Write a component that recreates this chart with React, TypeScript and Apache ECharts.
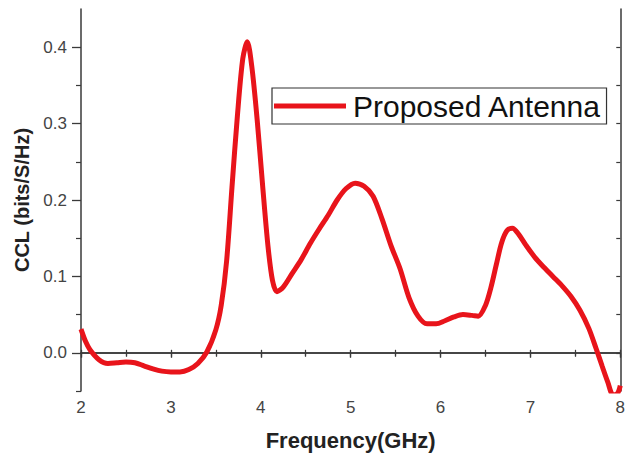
import React, { useEffect, useRef } from "react";
import * as echarts from "echarts";

// Frequency sweep (GHz) and channel capacity loss (bits/S/Hz)
const frequency = [
  2.0, 2.05, 2.1, 2.2, 2.3, 2.4, 2.5, 2.6, 2.7, 2.8, 2.9, 3.0, 3.1, 3.2, 3.3,
  3.4, 3.5, 3.56, 3.62, 3.68, 3.74, 3.8, 3.85, 3.9, 3.96, 4.02, 4.08, 4.13,
  4.18, 4.25, 4.35, 4.45, 4.55, 4.65, 4.75, 4.85, 4.95, 5.05, 5.15, 5.25, 5.35,
  5.45, 5.55, 5.65, 5.75, 5.85, 5.95, 6.05, 6.15, 6.25, 6.35, 6.42, 6.5, 6.56,
  6.62, 6.68, 6.74, 6.8, 6.87, 6.95, 7.05, 7.15, 7.25, 7.35, 7.45, 7.55, 7.65,
  7.73, 7.8, 7.86, 7.92, 7.97, 8.0,
];
const ccl = [
  0.031, 0.015, 0.004, -0.009, -0.014, -0.013, -0.012, -0.013, -0.017, -0.021,
  -0.024, -0.025, -0.025, -0.022, -0.014, 0.001, 0.03, 0.062, 0.12, 0.217,
  0.31, 0.385, 0.407, 0.375, 0.305, 0.22, 0.14, 0.095, 0.08, 0.086, 0.104,
  0.122, 0.143, 0.162, 0.18, 0.2, 0.215, 0.222, 0.218, 0.205, 0.175, 0.14,
  0.11, 0.072, 0.048, 0.038, 0.038, 0.042, 0.047, 0.05, 0.049, 0.048, 0.062,
  0.085, 0.115, 0.144, 0.16, 0.163, 0.155, 0.141, 0.125, 0.112, 0.1, 0.088,
  0.074, 0.056, 0.032, 0.006, -0.018, -0.038, -0.055, -0.053, -0.043,
];

const yMajorTicks = [0, 0.1, 0.2, 0.3, 0.4];
const yMinorTicks = [-0.05, 0.05, 0.15, 0.25, 0.35];
const yAllTicks = [-0.05, 0, 0.05, 0.1, 0.15, 0.2, 0.25, 0.3, 0.35, 0.4];

const seriesName = "Proposed Antenna";
const xTitle = "Frequency(GHz)";
const yTitle = "CCL (bits/S/Hz)";

const FONT = "'Liberation Sans', Arial, sans-serif";
const AXIS_COLOR = "#3a3a3a";
const LABEL_COLOR = "#444";

export default function App() {
  const ref = useRef<HTMLDivElement>(null);

  useEffect(() => {
    if (!ref.current) return;
    const chart = echarts.init(ref.current, null, { renderer: "svg" });

    const axisLine = { show: true, lineStyle: { color: AXIS_COLOR, width: 1.5 } };
    const yRange = { min: -0.05, max: 0.45 };

    chart.setOption({
      animation: false,
      backgroundColor: "#fff",
      grid: { left: 81, right: 3, top: 9, bottom: 64, containLabel: false },
      legend: {
        show: true,
        left: 272,
        top: 88,
        orient: "horizontal",
        padding: [3, 5, 3, 2],
        borderColor: "#333",
        borderWidth: 1.2,
        borderRadius: 0,
        itemWidth: 72,
        itemHeight: 5,
        itemGap: 6,
        icon: "rect",
        textStyle: { fontFamily: FONT, fontSize: 30, color: "#111", padding: [0, 0, 0, 2] },
        data: [seriesName],
      },
      xAxis: [
        {
          type: "value",
          position: "bottom",
          min: 2,
          max: 8,
          interval: 1,
          axisLine,
          axisTick: { show: true, inside: false, length: 5, lineStyle: { color: AXIS_COLOR, width: 1.3 } },
          minorTick: { show: true, splitNumber: 2, length: 3, lineStyle: { color: AXIS_COLOR, width: 1.2 } },
          axisLabel: { show: true, margin: 8, fontFamily: FONT, fontSize: 17, color: LABEL_COLOR },
          splitLine: { show: false },
          name: xTitle,
          nameLocation: "middle",
          nameGap: 38,
          nameTextStyle: { fontFamily: FONT, fontSize: 22, fontWeight: "bold", color: "#222" },
        },
        {
          type: "value",
          position: "bottom",
          min: 2,
          max: 8,
          interval: 1,
          axisLine: { show: false },
          axisTick: { show: true, inside: true, length: 3, lineStyle: { color: AXIS_COLOR, width: 1.3 } },
          minorTick: { show: true, splitNumber: 2, length: 3, lineStyle: { color: AXIS_COLOR, width: 1.2 } },
          axisLabel: { show: false },
          splitLine: { show: false },
        },
        {
          type: "value",
          position: "top",
          min: 2,
          max: 8,
          interval: 1,
          axisLine,
          axisTick: { show: true, inside: true, length: 4, lineStyle: { color: AXIS_COLOR, width: 1.2 } },
          minorTick: { show: true, splitNumber: 2, length: 4, lineStyle: { color: AXIS_COLOR, width: 1.2 } },
          axisLabel: { show: false },
          splitLine: { show: false },
        },
      ],
      yAxis: [
        {
          type: "value",
          position: "left",
          ...yRange,
          axisLine,
          axisTick: { show: true, inside: false, length: 9, customValues: yMajorTicks, lineStyle: { color: AXIS_COLOR, width: 1.3 } },
          axisLabel: {
            show: true,
            customValues: yMajorTicks,
            margin: 14,
            fontFamily: FONT,
            fontSize: 17,
            color: LABEL_COLOR,
            formatter: (v: number) => v.toFixed(1),
          },
          splitLine: { show: false },
          name: yTitle,
          nameLocation: "middle",
          nameGap: 49,
          nameTextStyle: { fontFamily: FONT, fontSize: 20, fontWeight: "bold", color: "#222" },
        },
        {
          type: "value",
          position: "left",
          ...yRange,
          axisLine: { show: false },
          axisTick: { show: true, inside: false, length: 5, customValues: yMinorTicks, lineStyle: { color: AXIS_COLOR, width: 1.2 } },
          axisLabel: { show: false },
          splitLine: { show: false },
        },
        {
          type: "value",
          position: "right",
          ...yRange,
          axisLine,
          axisTick: { show: true, inside: true, length: 4, customValues: yAllTicks, lineStyle: { color: AXIS_COLOR, width: 1.2 } },
          axisLabel: { show: false },
          splitLine: { show: false },
        },
      ],
      series: [
        {
          name: seriesName,
          type: "line",
          xAxisIndex: 0,
          yAxisIndex: 0,
          data: frequency.map((f, i) => [f, ccl[i]]),
          smooth: 0.3,
          symbol: "none",
          clip: true,
          lineStyle: { color: "#e8141b", width: 5 },
          itemStyle: { color: "#e8141b" },
        },
      ],
    });

    return () => chart.dispose();
  }, []);

  return (
    <div
      ref={ref}
      style={{ position: "absolute", left: 0, top: 0, width: 628, height: 456 }}
    />
  );
}
